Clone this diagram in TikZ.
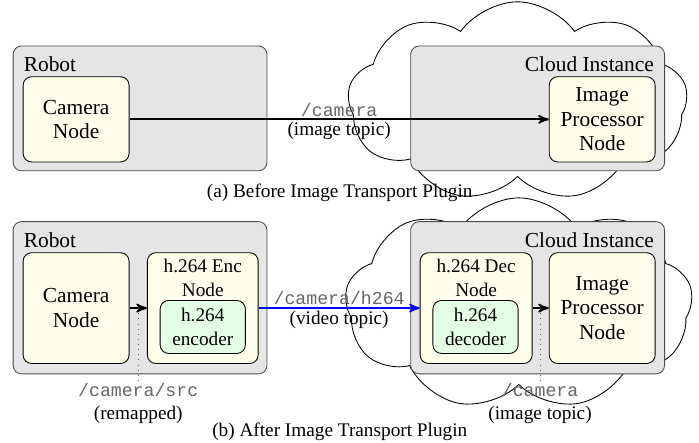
\documentclass[tikz,border=0pt]{standalone}
\usepackage{fontspec}
\setmainfont{Liberation Serif}
\setmonofont{Liberation Mono}
\usetikzlibrary{arrows, shapes.symbols}

\tikzset{
	hostbox/.style={draw=black!70, fill=black!10, rounded corners=4pt, minimum width=4.17cm},
	rosnode/.style={draw, fill=yellow!8, rounded corners=4pt, align=center, minimum width=1.74cm, font=\fontsize{10}{11.5}\selectfont},
	codec/.style={draw, fill=green!10, rounded corners=4pt, align=center, font=\small, minimum width=1.40cm, minimum height=0.87cm, inner sep=1pt},
	puff/.style={cloud, draw, cloud puffs=9, cloud puff arc=110, cloud ignores aspect, inner sep=0pt},
	topic/.style={font=\fontsize{8.5}{10}\ttfamily, text=black!60, inner sep=1pt},
	kind/.style={font=\small, text=black, inner sep=1pt},
	flow/.style={->, >=stealth', thick},
}

\begin{document}
\begin{tikzpicture}
	\useasboundingbox (0,0) rectangle (11.48,7.27);

	% (a) before
	\node[puff, minimum width=5.58cm, minimum height=3.28cm] (cloudA) at (8.50,5.60) {};
	\node[hostbox, minimum height=2.05cm] (robotA) at (2.30,5.49) {};
	\node[anchor=north west, inner sep=5pt] (robotAt) at (robotA.north west) {Robot};
	\node[hostbox, minimum height=2.05cm] (instA) at (8.83,5.49) {};
	\node[anchor=north east, inner sep=5pt] (instAt) at (instA.north east) {Cloud Instance};
	\node[rosnode, minimum height=1.40cm] (camA) at (1.25,5.31) {Camera\\Node};
	\node[rosnode, minimum height=1.40cm] (procA) at (9.89,5.31) {Image\\Processor\\Node};
	\draw[flow] (camA) -- 
		node[topic, above] {/camera}
		node[kind, below] {(image topic)} (procA);
	\node[font=\small] (capA) at (5.58,4.11) {(a) Before Image Transport Plugin};

	% (b) after
	\node[puff, minimum width=5.71cm, minimum height=3.48cm] (cloudB) at (8.52,2.28) {};
	\node[hostbox, minimum height=2.50cm] (robotB) at (2.30,2.38) {};
	\node[anchor=north west, inner sep=5pt] (robotBt) at (robotB.north west) {Robot};
	\node[hostbox, minimum height=2.50cm] (instB) at (8.83,2.38) {};
	\node[anchor=north east, inner sep=5pt] (instBt) at (instB.north east) {Cloud Instance};

	\node[rosnode, minimum height=1.82cm] (camB) at (1.25,2.21) {Camera\\Node};
	\node[rosnode, minimum width=1.82cm, minimum height=1.82cm] (encB) at (3.33,2.21) {};
	\node[anchor=north, font=\small, align=center, inner sep=3pt] (encBt) at (encB.north) {h.264 Enc\\Node};
	\node[codec] (enc) at (3.33,1.90) {h.264\\encoder};

	\node[rosnode, minimum width=1.84cm, minimum height=1.82cm] (decB) at (7.82,2.21) {};
	\node[anchor=north, font=\small, align=center, inner sep=3pt] (decBt) at (decB.north) {h.264 Dec\\Node};
	\node[codec] (dec) at (7.81,1.90) {h.264\\decoder};
	\node[rosnode, minimum height=1.82cm] (procB) at (9.89,2.21) {Image\\Processor\\Node};

	\draw[flow] (camB) -- coordinate[pos=0.5] (srcTap) (encB);
	\draw[flow, blue] (encB) --
		node[topic, above] {/camera/h264}
		node[kind, below] {(video topic)} (decB);
	\draw[flow] (decB) -- coordinate[pos=0.5] (imgTap) (procB);

	\node[font=\small, align=center, inner sep=1pt] (srcLbl) at (2.27,0.64)
		{{\fontsize{8.5}{10}\ttfamily\color{black!60}/camera/src}\\(remapped)};
	\node[font=\small, align=center, inner sep=1pt] (imgLbl) at (8.87,0.64)
		{{\fontsize{8.5}{10}\ttfamily\color{black!60}/camera}\\(image topic)};
	\draw[dotted, black!60] (srcTap) -- (srcTap |- srcLbl.north);
	\draw[dotted, black!60] (imgTap) -- (imgTap |- imgLbl.north);

	\node[font=\small] (capB) at (5.58,0.18) {(b) After Image Transport Plugin};
\end{tikzpicture}
\end{document}
